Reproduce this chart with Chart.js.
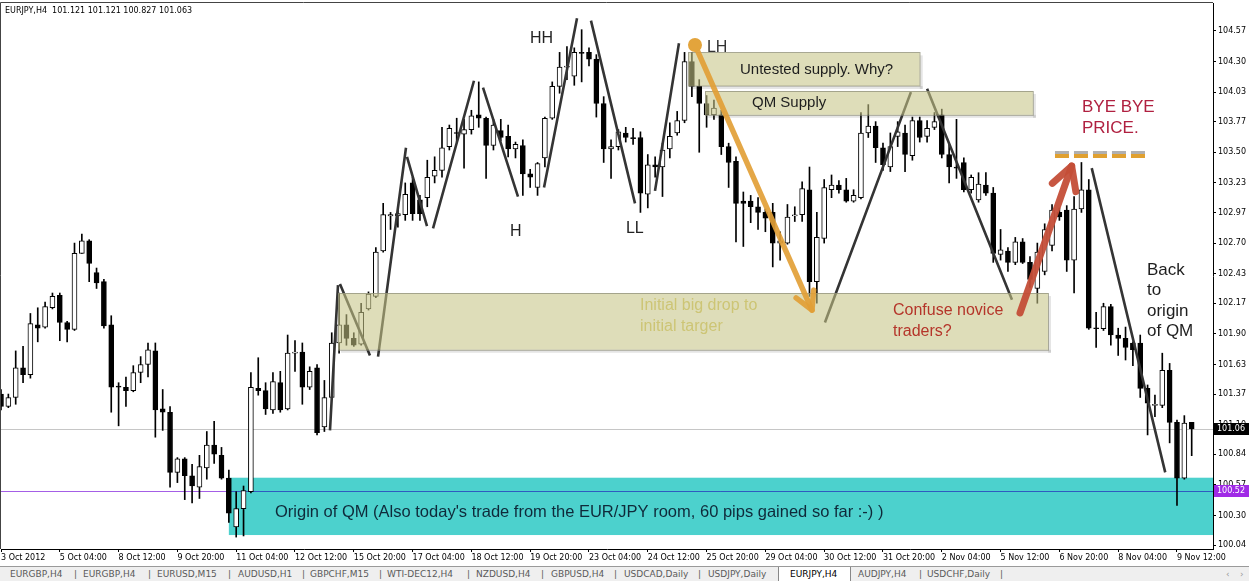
<!DOCTYPE html>
<html lang="en">
<head>
  <meta charset="UTF-8">
  <title>EURJPY,H4</title>
  <script src="https://cdn.jsdelivr.net/npm/chart.js"></script>
  <style>
    html, body { margin: 0; padding: 0; background: #fff; }
    #wrap { position: relative; width: 1249px; height: 581px; overflow: hidden; }
    #chart { position: absolute; left: 0; top: 0; }
    #tabs {
      position: absolute; left: 0; top: 566px; width: 1249px; height: 15px;
      background: #efefef; border-top: 1px solid #9a9a9a;
      font: 9px "DejaVu Sans", sans-serif; color: #5a5a5a;
    }
    #tabs span { position: absolute; top: 2px; white-space: nowrap; }
    #tabs .active { top: 0; height: 15px; background: #fff; border-left: 1px solid #888; border-right: 1px solid #888; }
  </style>
</head>
<body>
<div id="wrap">
  <canvas id="chart" width="1249" height="566"></canvas>
  <div id="tabs"></div>
</div>

<script>
// EURJPY H4 candles, 3 Oct 2012 20:00 -> 9 Nov 2012 20:00
const opens = [
  101.37, 101.26, 101.34, 101.60, 101.54, 101.98, 101.96, 102.13, 102.24, 102.00,
  101.94, 102.61, 102.72, 102.44, 102.36, 101.98, 101.44, 101.43, 101.40, 101.56,
  101.63, 101.75, 101.24, 101.21, 100.68, 100.80, 100.65, 100.55, 100.72, 100.92,
  100.83, 100.63, 100.20, 100.36, 100.51, 101.42, 101.40, 101.23, 101.47, 101.24,
  101.73, 101.74, 101.43, 101.60, 101.08, 101.34, 101.82, 101.98, 101.86, 101.81,
  102.12, 102.23, 102.63, 102.94, 102.94, 102.95, 103.23, 103.08, 103.10, 103.29,
  103.34, 103.55, 103.67, 103.66, 103.70, 103.83, 103.80, 103.56, 103.69, 103.64,
  103.53, 103.56, 103.31, 103.19, 103.45, 103.80, 104.08, 104.25, 104.17, 104.38,
  104.38, 104.32, 103.93, 103.53, 103.55, 103.67, 103.63, 103.63, 103.13, 103.39,
  103.37, 103.53, 103.67, 103.78, 104.30, 104.08, 103.93, 103.83, 103.83, 103.55,
  103.42, 103.07, 103.07, 103.02, 102.97, 102.97, 102.70, 102.70, 102.94, 102.95,
  103.17, 102.36, 102.74, 103.17, 103.21, 103.17, 103.07, 103.10, 103.67, 103.73,
  103.54, 103.37, 103.64, 103.67, 103.47, 103.78, 103.64, 103.72, 103.83, 103.48,
  103.37, 103.41, 103.17, 103.08, 103.21, 103.14, 102.60, 102.63, 102.53, 102.71,
  102.53, 102.30, 102.45, 102.68, 102.97, 102.99, 102.55, 103.00, 103.17, 101.95,
  101.945, 102.14, 101.89, 101.86, 101.82, 101.82, 101.42, 101.27, 101.27, 101.58,
  101.12, 100.63, 101.121
];
const highs = [
  101.41, 101.37, 101.75, 101.79, 102.08, 102.13, 102.18, 102.26, 102.26, 102.01,
  102.70, 102.78, 102.73, 102.48, 102.38, 102.06, 101.47, 101.52, 101.62, 101.70,
  101.82, 101.82, 101.41, 101.26, 100.81, 100.81, 100.75, 100.83, 101.04, 101.13,
  100.90, 100.70, 100.51, 100.56, 101.56, 101.69, 101.47, 101.56, 101.57, 101.89,
  101.84, 101.82, 101.61, 101.63, 101.49, 101.91, 102.26, 102.07, 101.91, 102.17,
  102.27, 102.66, 103.05, 102.97, 102.99, 103.23, 103.28, 103.12, 103.43, 103.46,
  103.72, 103.74, 103.80, 103.79, 103.87, 104.12, 103.81, 103.79, 103.79, 103.74,
  103.59, 103.61, 103.35, 103.41, 103.81, 104.12, 104.38, 104.43, 104.42, 104.58,
  104.42, 104.36, 103.99, 103.61, 103.70, 103.72, 103.71, 103.68, 103.48, 103.46,
  103.58, 103.76, 103.86, 104.38, 104.38, 104.14, 104.00, 103.96, 103.87, 103.58,
  103.46, 103.15, 103.12, 103.10, 103.00, 103.05, 102.80, 103.04, 103.02, 103.24,
  103.37, 102.97, 103.26, 103.30, 103.25, 103.27, 103.17, 103.85, 103.92, 103.77,
  103.58, 103.67, 103.77, 103.74, 103.81, 103.81, 103.78, 103.85, 103.88, 103.57,
  103.79, 103.45, 103.30, 103.32, 103.32, 103.19, 102.82, 102.66, 102.75, 102.74,
  102.58, 102.70, 102.87, 103.04, 103.01, 103.03, 103.11, 103.41, 103.26, 102.09,
  102.17, 102.16, 101.95, 101.96, 101.83, 101.89, 101.45, 101.36, 101.73, 101.64,
  101.14, 101.18, 101.121
];
const lows = [
  101.23, 101.25, 101.28, 101.47, 101.51, 101.83, 101.95, 102.12, 101.84, 101.83,
  101.93, 102.61, 102.36, 102.30, 101.95, 101.21, 101.09, 101.26, 101.39, 101.47,
  101.52, 100.99, 101.05, 100.55, 100.59, 100.44, 100.41, 100.45, 100.62, 100.76,
  100.62, 100.24, 100.11, 100.12, 100.50, 101.36, 101.19, 101.20, 101.21, 101.23,
  101.57, 101.28, 101.41, 101.01, 101.04, 101.33, 101.73, 101.80, 101.79, 101.80,
  102.11, 102.22, 102.62, 102.82, 102.84, 102.90, 102.90, 102.90, 103.02, 103.23,
  103.28, 103.52, 103.59, 103.36, 103.66, 103.72, 103.27, 103.52, 103.60, 103.46,
  103.45, 103.12, 103.19, 103.12, 103.37, 103.79, 104.02, 104.14, 104.09, 104.12,
  104.26, 103.81, 103.41, 103.27, 103.52, 103.59, 103.57, 102.97, 103.01, 103.28,
  103.11, 103.45, 103.65, 103.76, 103.99, 103.50, 103.72, 103.79, 103.48, 103.19,
  102.71, 102.67, 102.88, 102.82, 102.80, 102.49, 102.55, 102.69, 102.89, 102.89,
  102.23, 102.17, 102.70, 103.10, 103.14, 103.06, 103.06, 103.09, 103.63, 103.41,
  103.34, 103.33, 103.55, 103.33, 103.43, 103.59, 103.59, 103.70, 103.45, 103.23,
  103.27, 103.15, 103.14, 103.06, 103.12, 102.53, 102.55, 102.45, 102.51, 102.52,
  102.31, 102.17, 102.42, 102.63, 102.90, 102.45, 102.26, 102.97, 101.94, 101.78,
  101.93, 101.80, 101.71, 101.67, 101.62, 101.34, 101.01, 101.17, 101.25, 100.94,
  100.39, 100.62, 100.827
];
const closes = [
  101.26, 101.34, 101.60, 101.54, 101.99, 101.95, 102.14, 102.23, 102.00, 101.94,
  102.61, 102.72, 102.52, 102.35, 101.97, 101.43, 101.43, 101.40, 101.56, 101.63,
  101.76, 101.23, 101.21, 100.68, 100.80, 100.65, 100.56, 100.73, 100.92, 100.84,
  100.63, 100.32, 100.36, 100.52, 101.43, 101.40, 101.24, 101.48, 101.23, 101.73,
  101.74, 101.43, 101.57, 101.03, 101.34, 101.82, 101.98, 101.86, 101.80, 102.09,
  102.25, 102.62, 102.95, 102.95, 102.96, 103.13, 102.96, 102.96, 103.28, 103.34,
  103.54, 103.71, 103.665, 103.70, 103.82, 103.80, 103.56, 103.74, 103.63, 103.53,
  103.57, 103.31, 103.28, 103.40, 103.80, 104.08, 104.25, 104.26, 104.38, 104.37,
  104.32, 103.93, 103.53, 103.55, 103.68, 103.63, 103.62, 103.14, 103.39, 103.37,
  103.52, 103.64, 103.78, 104.30, 104.08, 103.93, 103.83, 103.89, 103.55, 103.41,
  103.05, 103.05, 103.02, 102.97, 102.92, 102.70, 102.72, 102.93, 102.945, 103.18,
  102.36, 102.75, 103.19, 103.21, 103.17, 103.07, 103.12, 103.67, 103.73, 103.54,
  103.39, 103.55, 103.68, 103.48, 103.78, 103.63, 103.71, 103.77, 103.48, 103.37,
  103.36, 103.17, 103.28, 103.22, 103.14, 102.61, 102.64, 102.53, 102.71, 102.53,
  102.38, 102.62, 102.82, 102.99, 102.93, 102.55, 103.00, 103.17, 101.95, 101.945,
  102.14, 101.89, 101.86, 101.78, 101.76, 101.42, 101.29, 101.275, 101.58, 101.12,
  100.63, 101.115, 101.063
];

// one label every 8 bars (32 hours)
const xTickLabels = [
  '3 Oct 2012', '5 Oct 04:00', '8 Oct 12:00', '9 Oct 20:00', '11 Oct 04:00', '12 Oct 12:00',
  '15 Oct 20:00', '17 Oct 04:00', '18 Oct 12:00', '19 Oct 20:00', '23 Oct 04:00', '24 Oct 12:00',
  '25 Oct 20:00', '29 Oct 04:00', '30 Oct 12:00', '31 Oct 20:00', '2 Nov 04:00', '5 Nov 12:00',
  '6 Nov 20:00', '8 Nov 04:00', '9 Nov 12:00'
];
const yTickValues = [
  104.57, 104.30, 104.03, 103.77, 103.50, 103.23, 102.97, 102.70, 102.43,
  102.17, 101.90, 101.63, 101.37, 101.10, 100.84, 100.57, 100.30, 100.04
];
const alertLevel = 100.52;

// hand-drawn swing lines (bar index, price)
const zzFromK = [44.76, 46.12, 51.3, 55.24, 58.78, 65.58, 73.88, 80.27, 88.98, 112.1, 126.0, 148.4];
const zzFromP = [101.05, 102.34, 101.70, 103.46, 102.83, 104.07, 103.19, 104.66, 103.16, 102.00, 104.06, 103.36];
const zzToK   = [45.85, 50.2, 55.1, 57.96, 64.35, 70.34, 78.37, 86.26, 92.24, 123.8, 137.55, 158.4];
const zzToP   = [102.33, 101.71, 103.54, 102.85, 104.13, 103.11, 104.68, 103.05, 104.46, 104.03, 102.20, 100.68];

// zones: [from bar, to bar, top price, bottom price]
const originZone = [31.0, 166, 100.633, 100.128];
const supplyZones = [
  [93.5, 125.0, 104.38, 104.084],
  [95.8, 140.4, 104.04, 103.83],
  [45.85, 142.45, 102.26, 101.76]
];

const notes = [
  { k: 71.97, p: 104.50, t: 'HH', c: '#222', s: 16 },
  { k: 69.25, p: 102.80, t: 'H', c: '#222', s: 16 },
  { k: 85.03, p: 102.83, t: 'LL', c: '#222', s: 16 },
  { k: 96.05, p: 104.42, t: 'LH', c: '#333', s: 16 },
  { k: 100.54, p: 104.225, t: 'Untested supply. Why?', c: '#1e1e1e', s: 15 },
  { k: 102.18, p: 103.934, t: 'QM Supply', c: '#1e1e1e', s: 15 },
  { k: 86.94, p: 102.146, t: 'Initial big drop to', c: '#cdc575', s: 16 },
  { k: 86.94, p: 101.961, t: 'initial targer', c: '#cdc575', s: 16 },
  { k: 121.36, p: 102.102, t: 'Confuse novice', c: '#b5352a', s: 16 },
  { k: 121.36, p: 101.917, t: 'traders?', c: '#b5352a', s: 16 },
  { k: 147.07, p: 103.90, t: 'BYE BYE', c: '#b02040', s: 17 },
  { k: 147.07, p: 103.714, t: 'PRICE.', c: '#b02040', s: 17 },
  { k: 155.92, p: 102.463, t: 'Back', c: '#1e1e1e', s: 17 },
  { k: 155.92, p: 102.287, t: 'to', c: '#1e1e1e', s: 17 },
  { k: 155.92, p: 102.102, t: 'origin', c: '#1e1e1e', s: 17 },
  { k: 155.92, p: 101.925, t: 'of QM', c: '#1e1e1e', s: 17 },
  { k: 37.28, p: 100.331, t: "Origin of QM (Also today's trade from the EUR/JPY room, 60 pips gained so far :-) )", c: '#0f2a3a', s: 16.5 }
];

// arrows: [from bar, from price, to bar, to price]
const dropArrow = [94.42, 104.445, 110.34, 102.11];
const fakeArrow = [138.64, 102.084, 145.67, 103.379];
const byeLine = [143.4, 156.05, 103.476];

const tabNames = ['EURGBP,H4', 'EURGBP,H4', 'EURUSD,M15', 'AUDUSD,H1', 'GBPCHF,M15', 'WTI-DEC12,H4',
  'NZDUSD,H4', 'GBPUSD,H4', 'USDCAD,Daily', 'USDJPY,Daily', 'EURJPY,H4', 'AUDJPY,H4', 'USDCHF,Daily'];
const tabLefts = [10, 83, 157, 238, 310, 387, 476, 551, 624, 708, 790, 858, 927];
const tabSeps = [74, 148, 228, 302, 379, 467, 541, 614, 698, 919, 1000];

// tab bar
const tabs = document.getElementById('tabs');
const act = document.createElement('span');
act.className = 'active';
act.style.left = '778px'; act.style.width = '71px';
tabs.appendChild(act);
tabNames.forEach((name, i) => {
  const s = document.createElement('span');
  s.textContent = name;
  s.style.left = tabLefts[i] + 'px';
  if (i === 10) s.style.color = '#000';
  tabs.appendChild(s);
});
tabSeps.forEach(x => {
  const s = document.createElement('span');
  s.textContent = '|';
  s.style.left = x + 'px';
  tabs.appendChild(s);
});
['‹', '›'].forEach((a, i) => {
  const s = document.createElement('span');
  s.textContent = a;
  s.style.left = (1226 + i * 14) + 'px';
  s.style.color = '#999';
  tabs.appendChild(s);
});

const idx = opens.map((_, i) => i);
const wicks = idx.map(i => ({ x: i, y: [lows[i], highs[i]] }));
const bodies = idx.map(i => ({ x: i, y: [Math.min(opens[i], closes[i]), Math.max(opens[i], closes[i])] }));
const bodyFill = idx.map(i => closes[i] >= opens[i] ? '#ffffff' : '#000000');

const zigzag = [];
zzFromK.forEach((k, i) => {
  zigzag.push({ x: k, y: zzFromP[i] }, { x: zzToK[i], y: zzToP[i] }, { x: zzToK[i], y: null });
});

function arrowLine(ctx, x1, y1, x2, y2, color, w, head) {
  ctx.strokeStyle = color;
  ctx.lineWidth = w;
  ctx.lineCap = 'round';
  ctx.lineJoin = 'round';
  ctx.beginPath(); ctx.moveTo(x1, y1); ctx.lineTo(x2, y2); ctx.stroke();
  const ang = Math.atan2(y2 - y1, x2 - x1);
  ctx.beginPath();
  ctx.moveTo(x2 - head * Math.cos(ang - 0.5), y2 - head * Math.sin(ang - 0.5));
  ctx.lineTo(x2, y2);
  ctx.lineTo(x2 - head * Math.cos(ang + 0.5), y2 - head * Math.sin(ang + 0.5));
  ctx.stroke();
}

const annotations = {
  id: 'annotations',
  beforeDatasetsDraw(chart) {
    const { ctx, chartArea: a, scales: { x, y } } = chart;
    ctx.save();
    ctx.beginPath(); ctx.rect(a.left, a.top, a.right - a.left, a.bottom - a.top); ctx.clip();
    const ox0 = x.getPixelForValue(originZone[0]), ox1 = x.getPixelForValue(originZone[1]);
    const oy0 = y.getPixelForValue(originZone[2]), oy1 = y.getPixelForValue(originZone[3]);
    ctx.fillStyle = '#4cd1cd';
    ctx.fillRect(ox0, oy0, ox1 - ox0, oy1 - oy0);
    ctx.lineWidth = 1;
    const by = Math.round(y.getPixelForValue(closes[closes.length - 1])) + 0.5;
    ctx.strokeStyle = '#c6c6c6';
    ctx.beginPath(); ctx.moveTo(a.left, by); ctx.lineTo(a.right, by); ctx.stroke();
    const py = Math.round(y.getPixelForValue(alertLevel)) + 0.5;
    ctx.strokeStyle = '#a45ee6';
    ctx.beginPath(); ctx.moveTo(a.left, py); ctx.lineTo(ox0, py); ctx.stroke();
    ctx.strokeStyle = '#2f5bc0';
    ctx.beginPath(); ctx.moveTo(ox0, py); ctx.lineTo(a.right, py); ctx.stroke();
    ctx.restore();
  },
  afterDatasetsDraw(chart) {
    const { ctx, chartArea: a, scales: { x, y } } = chart;
    ctx.save();
    ctx.beginPath(); ctx.rect(a.left, a.top, a.right - a.left, a.bottom - a.top); ctx.clip();

    // supply zones, translucent over the candles
    supplyZones.forEach(z => {
      const x0 = x.getPixelForValue(z[0]), x1 = x.getPixelForValue(z[1]);
      const y0 = y.getPixelForValue(z[2]), y1 = y.getPixelForValue(z[3]);
      ctx.fillStyle = 'rgba(0,0,0,0.10)';
      ctx.fillRect(x1, y0 + 3, 3, y1 - y0);
      ctx.fillRect(x0 + 3, y1, x1 - x0, 3);
      ctx.fillStyle = 'rgba(198,196,135,0.58)';
      ctx.fillRect(x0, y0, x1 - x0, y1 - y0);
      ctx.strokeStyle = 'rgba(140,140,120,0.7)';
      ctx.lineWidth = 1;
      ctx.strokeRect(Math.round(x0) + 0.5, Math.round(y0) + 0.5, x1 - x0, y1 - y0);
    });

    // text notes
    ctx.textBaseline = 'middle';
    ctx.textAlign = 'left';
    notes.forEach(n => {
      ctx.font = n.s + 'px "Liberation Sans", Arial, sans-serif';
      ctx.fillStyle = n.c;
      ctx.fillText(n.t, x.getPixelForValue(n.k), y.getPixelForValue(n.p));
    });

    // dashed "bye bye" level
    const bx0 = x.getPixelForValue(byeLine[0]), bx1 = x.getPixelForValue(byeLine[1]);
    const byy = y.getPixelForValue(byeLine[2]);
    ctx.setLineDash([14, 5]);
    ctx.lineCap = 'butt';
    ctx.lineWidth = 3;
    ctx.strokeStyle = 'rgba(150,150,150,0.75)';
    ctx.beginPath(); ctx.moveTo(bx0, byy - 2.5); ctx.lineTo(bx1, byy - 2.5); ctx.stroke();
    ctx.lineWidth = 4;
    ctx.strokeStyle = '#e0a030';
    ctx.beginPath(); ctx.moveTo(bx0, byy + 1); ctx.lineTo(bx1, byy + 1); ctx.stroke();
    ctx.setLineDash([]);

    // arrows
    const d = dropArrow.map((v, i) => i % 2 === 0 ? x.getPixelForValue(v) : y.getPixelForValue(v));
    arrowLine(ctx, d[0], d[1], d[2], d[3], 'rgba(226,160,55,0.92)', 5.5, 20);
    ctx.fillStyle = '#e3a43c';
    ctx.beginPath(); ctx.arc(d[0], d[1], 7, 0, Math.PI * 2); ctx.fill();
    const f = fakeArrow.map((v, i) => i % 2 === 0 ? x.getPixelForValue(v) : y.getPixelForValue(v));
    arrowLine(ctx, f[0], f[1], f[2], f[3], 'rgba(196,78,56,0.95)', 7, 26);
    ctx.restore();
  },
  afterDraw(chart) {
    const { ctx, chartArea: a, scales: { y } } = chart;
    ctx.save();
    ctx.strokeStyle = '#444';
    ctx.lineWidth = 1;
    ctx.beginPath();
    ctx.moveTo(a.left - 0.5, a.bottom); ctx.lineTo(a.left - 0.5, a.top - 0.5); ctx.lineTo(a.right, a.top - 0.5);
    ctx.stroke();

    ctx.font = '8px "DejaVu Sans", sans-serif';
    ctx.textBaseline = 'middle';
    ctx.fillStyle = '#000';
    const last = closes.length - 1;
    ctx.fillText('EURJPY,H4  ' + [opens[last], highs[last], lows[last], closes[last]].map(v => v.toFixed(3)).join(' '), a.left + 4, a.top + 8);

    // price tags on the axis
    const tags = [[closes[last], '#000000'], [alertLevel, '#a02ae6']];
    tags.forEach(t => {
      const ty = Math.round(y.getPixelForValue(t[0]));
      ctx.fillStyle = t[1];
      ctx.fillRect(a.right + 1, ty - 6, 36, 12);
      ctx.fillStyle = '#fff';
      ctx.fillText(t[0].toFixed(2), a.right + 4, ty);
    });
    ctx.restore();
  }
};

new Chart(document.getElementById('chart'), {
  type: 'bar',
  data: {
    datasets: [
      { type: 'line', data: zigzag, borderColor: '#343434', borderWidth: 2.6, pointRadius: 0, spanGaps: false, tension: 0, order: 0 },
      { data: bodies, backgroundColor: bodyFill, borderColor: '#000', borderWidth: 1, borderSkipped: false,
        grouped: false, barThickness: 5, maxBarThickness: 5, minBarLength: 1, order: 1 },
      { data: wicks, backgroundColor: '#000', borderWidth: 0, grouped: false, barThickness: 1, maxBarThickness: 1, order: 2 }
    ]
  },
  options: {
    responsive: false,
    animation: false,
    devicePixelRatio: 1,
    layout: { padding: { left: 1, top: 3, right: 0, bottom: 0 } },
    plugins: { legend: { display: false }, tooltip: { enabled: false } },
    scales: {
      x: {
        type: 'linear', min: 0, max: 164.9, offset: false,
        afterBuildTicks: s => { s.ticks = xTickLabels.map((_, i) => ({ value: i * 8 })); },
        afterFit: s => { s.height = 17; s.paddingLeft = 0; s.paddingRight = 0; },
        ticks: {
          callback: (v, i) => xTickLabels[i], autoSkip: false, maxRotation: 0, align: 'start',
          font: { family: 'DejaVu Sans', size: 8 }, color: '#000', padding: 1
        },
        grid: { drawOnChartArea: false, offset: false, tickLength: 3, color: '#000' },
        border: { display: true, color: '#000' }
      },
      y: {
        type: 'linear', position: 'right', min: 100.005, max: 104.815,
        afterBuildTicks: s => { s.ticks = yTickValues.map(v => ({ value: v })); },
        afterFit: s => { s.width = 36; s.paddingTop = 0; s.paddingBottom = 0; },
        ticks: { callback: v => v.toFixed(2), font: { family: 'DejaVu Sans', size: 8 }, color: '#000', padding: 2 },
        grid: { drawOnChartArea: false, tickLength: 3, color: '#000' },
        border: { display: true, color: '#000' }
      }
    }
  },
  plugins: [annotations]
});
</script>
</body>
</html>
